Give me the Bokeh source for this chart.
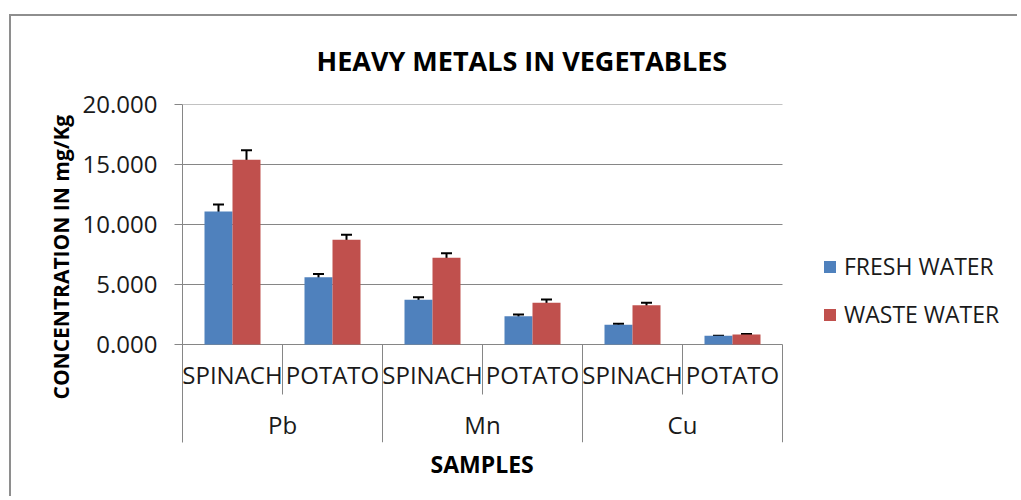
from bokeh.plotting import figure
from bokeh.models import (Range1d, FixedTicker, NumeralTickFormatter, Whisker, TeeHead,
                          ColumnDataSource, Legend, LegendItem, Title)
from bokeh.transform import dodge
from bokeh.core.properties import value
from bokeh.embed import file_html
from bokeh.resources import INLINE

# ---- data ----
metals = ["Pb", "Mn", "Cu"]
vegetables = ["SPINACH", "POTATO", "SPINACH", "POTATO", "SPINACH", "POTATO"]
fresh = [11.08, 5.60, 3.72, 2.36, 1.64, 0.72]
waste = [15.40, 8.72, 7.22, 3.47, 3.28, 0.83]
fresh_err = [0.58, 0.28, 0.22, 0.15, 0.08, 0.01]
waste_err = [0.78, 0.42, 0.38, 0.27, 0.20, 0.05]
y_ticks = [0, 5, 10, 15, 20]

FONT = "Open Sans"
GRID = "#868686"
BLUE = "#4F81BD"
RED = "#C0504D"

n = len(fresh)
xc = [i + 0.5 for i in range(n)]
src = ColumnDataSource(dict(
    xc=xc, veg=vegetables, fresh=fresh, waste=waste,
    fu=[v + e for v, e in zip(fresh, fresh_err)], fl=[v - e for v, e in zip(fresh, fresh_err)],
    wu=[v + e for v, e in zip(waste, waste_err)], wl=[v - e for v, e in zip(waste, waste_err)],
))
msrc = ColumnDataSource(dict(xm=[2 * i + 1 for i in range(len(metals))], metal=metals))

PX = 12.0      # pixels per value unit
CAT_PX = 100.0 # pixels per category
W, H = 1008, 482
LEFT, TOP, BOTTOM = 171, 88, 56
y_bottom = -98 / PX
x_end = (W - LEFT) / CAT_PX  # frame reaches the right edge; plot area itself ends at n

p = figure(width=W, height=H, x_range=Range1d(0, x_end), y_range=Range1d(y_bottom, 20),
           output_backend="svg", toolbar_location=None,
           min_border_left=LEFT, min_border_right=0, min_border_top=TOP, min_border_bottom=BOTTOM)
p.margin = (14, 0, 0, 9)
p.styles = {"border-left": "2px solid #8e8e8e", "border-top": "2px solid #8e8e8e"}
p.outline_line_color = None
p.background_fill_color = "white"
p.border_fill_color = "white"

# title
p.title.text = "HEAVY METALS IN VEGETABLES"
p.title.text_font = FONT
p.title.text_font_style = "bold"
p.title.text_font_size = "27px"
p.title.text_color = "#000000"
p.title.align = "left"
p.title.offset = 134
p.title.vertical_align = "top"
p.title.standoff = 48

# x title
p.add_layout(Title(text="SAMPLES", text_font=FONT, text_font_style="bold", text_font_size="23px",
                   text_color="#000000", align="left", offset=248, standoff=6), "below")
p.xaxis.visible = False

# y axis
yax = p.yaxis[0]
yax.ticker = FixedTicker(ticks=y_ticks)
yax.formatter = NumeralTickFormatter(format="0.000")
yax.axis_line_color = GRID
yax.major_tick_line_color = GRID
yax.major_tick_out = 8
yax.major_tick_in = 0
yax.minor_tick_line_color = None
yax.major_label_standoff = 17
yax.major_label_text_font = FONT
yax.major_label_text_font_size = "24px"
yax.major_label_text_color = "#1a1a1a"
yax.axis_label = "\u00a0" * 6 + "CONCENTRATION IN mg/Kg"
yax.axis_label_text_font = FONT
yax.axis_label_text_font_style = "bold"
yax.axis_label_text_font_size = "21px"
yax.axis_label_text_color = "#000000"
yax.axis_label_standoff = 5

p.xgrid.visible = False
p.ygrid.visible = False
# horizontal gridlines across the plot area only
p.segment(x0=0, x1=n, y0=y_ticks, y1=y_ticks, line_color=GRID, line_width=1)

# bars
r1 = p.vbar(x=dodge("xc", -0.14, range=p.x_range), top="fresh", width=0.28, source=src,
            fill_color=BLUE, line_color=None)
r2 = p.vbar(x=dodge("xc", 0.14, range=p.x_range), top="waste", width=0.28, source=src,
            fill_color=RED, line_color=None)

# error bars
for base_off, up, lo in [(-0.14, "fu", "fl"), (0.14, "wu", "wl")]:
    w = Whisker(source=src, base=dodge("xc", base_off, range=p.x_range), upper=up, lower=lo,
                line_color="black", line_width=2,
                upper_head=TeeHead(size=11, line_color="black", line_width=2),
                lower_head=TeeHead(size=11, line_color="black", line_width=2))
    p.add_layout(w)

# category axis drawn below zero
p.segment(x0=[1, 3, 5], y0=0, x1=[1, 3, 5], y1=-50 / PX, line_color=GRID, line_width=1)
p.segment(x0=[2, 4, 6], y0=0, x1=[2, 4, 6], y1=y_bottom, line_color=GRID, line_width=1)
p.text(x="xc", y=-30 / PX, text="veg", source=src, text_align="center", text_baseline="alphabetic",
       text_font=value(FONT), text_font_size="24px", text_color="#1a1a1a")
p.text(x="xm", y=-80 / PX, text="metal", source=msrc, text_align="center", text_baseline="alphabetic",
       text_font=value(FONT), text_font_size="24px", text_color="#1a1a1a")

# legend
legend = Legend(items=[LegendItem(label="FRESH WATER", renderers=[r1]),
                       LegendItem(label="WASTE WATER", renderers=[r2])],
                location=(640, 112), orientation="vertical",
                glyph_width=15, glyph_height=15, label_standoff=7, label_height=30, spacing=16,
                padding=0, margin=0, border_line_color=None, background_fill_alpha=0,
                label_text_font=FONT, label_text_font_size="23px", label_text_color="#1a1a1a")
p.add_layout(legend)

open("out.html", "w").write(file_html(p, INLINE))
